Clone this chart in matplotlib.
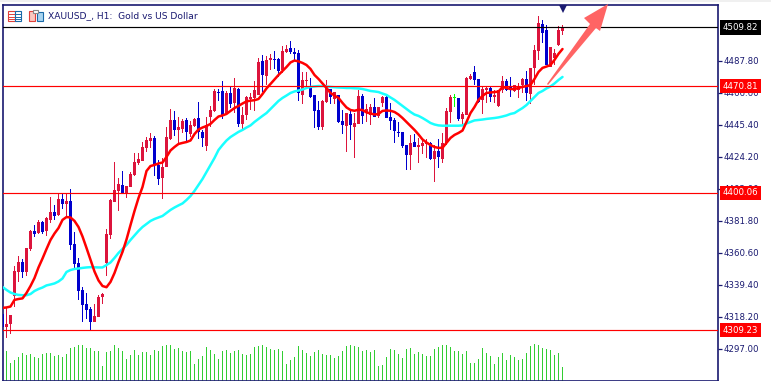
import matplotlib
matplotlib.use("Agg")
import matplotlib.pyplot as plt
from matplotlib.patches import Polygon, Rectangle
from matplotlib.lines import Line2D

W, H = 771, 381

symbol_title = "XAUUSD_, H1:  Gold vs US Dollar"
tick_prices = [4487.80, 4466.60, 4445.40, 4424.20, 4403.00, 4381.80, 4360.60, 4339.40, 4318.20, 4297.00]
level_prices = [4470.81, 4400.06, 4309.23]
last_price = 4509.82

candle_dir = ("brrrrbrrbr" "brrbrbrbbb" "bbbrrrrrrr" "brrrrrrrbb" "rrrbrrbrrb" "brrrbbrbrb" "rrrrrbrrbb"
              "rrbbbrrbbb" "rrbrbbrbrr" "brrbrrbbbb" "bbrbrrrbrb" "rrrgbrrrbb" "rrbrrrbbrr" "rbrrrbbrrr" "r")

body_top = [4319.9,4313.2,4319.2,4348.3,4354.4,4354.4,4363.6,4374.9,4374.9,4380.9,
            4380.9,4383.5,4387.5,4387.5,4396.1,4396.1,4394.8,4394.8,4366.3,4353.7,
            4335.8,4326.5,4323.2,4318.6,4331.2,4333.1,4372.9,4395.4,4402.0,4406.0,
            4405.4,4404.7,4412.7,4420.6,4422.6,4430.5,4435.2,4436.5,4436.5,4418.6,
            4417.3,4437.2,4448.4,4448.4,4443.8,4447.8,4448.4,4445.1,4449.1,4449.7,
            4440.5,4445.1,4455.0,4467.7,4467.0,4467.7,4466.3,4466.3,4469.6,4469.0,
            4451.7,4463.7,4463.7,4468.3,4486.9,4487.5,4488.2,4489.5,4488.8,4488.8,
            4494.1,4495.5,4496.1,4493.5,4492.8,4474.9,4474.9,4469.6,4465.0,4455.0,
            4461.0,4470.3,4469.0,4467.0,4465.0,4447.8,4453.0,4452.4,4446.4,4464.3,
            4464.3,4455.7,4457.0,4457.0,4457.0,4463.7,4463.7,4450.4,4448.4,4440.5,
            4440.5,4431.9,4433.2,4433.9,4431.9,4433.2,4433.9,4433.2,4427.9,4427.9,
            4433.2,4454.4,4463.7,4463.0,4463.0,4452.4,4476.2,4477.6,4480.2,4475.6,
            4469.0,4469.6,4469.6,4465.0,4468.3,4474.3,4474.3,4470.3,4471.6,4470.3,
            4475.6,4475.6,4482.9,4494.8,4512.7,4512.0,4508.0,4496.8,4492.8,4508.0,
            4509.8]
body_bottom = [4311.3,4311.3,4313.2,4331.8,4347.7,4347.7,4347.7,4362.9,4372.9,4373.5,
               4374.2,4374.9,4382.2,4384.8,4385.5,4392.8,4392.8,4365.6,4353.0,4335.1,
               4325.9,4322.5,4314.6,4314.6,4317.9,4331.2,4353.7,4372.2,4394.1,4401.4,
               4400.1,4400.1,4404.0,4412.0,4419.9,4421.3,4429.9,4434.5,4419.3,4409.3,
               4410.0,4417.3,4435.8,4441.8,4441.8,4442.5,4440.5,4439.2,4444.4,4440.5,
               4436.5,4431.2,4450.4,4454.4,4466.3,4451.7,4453.0,4459.0,4459.7,4445.8,
               4445.8,4451.7,4462.3,4463.0,4465.0,4478.2,4477.6,4488.2,4488.2,4480.9,
               4481.5,4493.5,4493.5,4492.2,4466.3,4465.0,4474.3,4463.7,4454.4,4443.8,
               4443.8,4460.4,4463.7,4462.3,4447.1,4445.1,4444.4,4445.1,4443.8,4445.8,
               4451.0,4453.0,4451.7,4450.4,4451.0,4459.7,4449.7,4447.8,4441.1,4439.8,
               4431.2,4425.2,4425.2,4430.5,4430.5,4431.2,4432.5,4422.6,4422.6,4423.9,
               4422.6,4433.2,4453.7,4462.7,4449.1,4449.1,4451.7,4475.6,4474.9,4460.4,
               4461.7,4468.3,4463.7,4463.7,4457.7,4468.3,4468.3,4469.6,4467.7,4468.3,
               4471.6,4466.3,4465.7,4482.9,4494.1,4506.0,4484.9,4483.5,4489.5,4498.1,
               4507.4]
highs = [4319.9,4323.9,4319.2,4351.7,4358.3,4356.3,4363.6,4375.5,4378.9,4382.2,
         4381.5,4384.2,4397.4,4392.1,4399.4,4399.4,4399.4,4402.7,4374.2,4357.0,
         4337.8,4333.8,4324.6,4326.5,4332.5,4333.8,4376.2,4396.1,4420.6,4410.0,
         4414.7,4404.7,4414.0,4426.6,4426.6,4433.9,4437.2,4439.8,4437.8,4421.9,
         4423.2,4443.8,4455.7,4454.4,4450.4,4449.1,4449.7,4447.8,4449.7,4460.4,
         4441.8,4450.4,4457.7,4469.0,4469.0,4474.3,4467.7,4470.3,4476.2,4469.6,
         4457.0,4464.3,4466.3,4474.3,4489.5,4491.5,4490.8,4492.2,4494.1,4489.5,
         4497.4,4498.1,4500.8,4496.1,4494.8,4480.2,4480.2,4476.2,4465.0,4461.0,
         4461.7,4474.9,4469.0,4467.0,4465.0,4455.0,4453.0,4454.4,4453.0,4468.3,
         4465.7,4459.0,4459.0,4463.0,4457.0,4464.3,4464.3,4459.7,4449.7,4447.1,
         4440.5,4431.9,4438.5,4439.2,4436.5,4436.5,4435.8,4433.9,4431.9,4435.8,
         4439.8,4456.4,4465.0,4465.7,4463.0,4453.7,4476.9,4478.9,4484.2,4475.6,
         4470.9,4470.3,4470.3,4468.3,4468.3,4477.6,4475.6,4476.9,4471.6,4472.9,
         4476.2,4480.9,4482.9,4498.1,4517.3,4514.7,4511.4,4496.8,4495.5,4510.7,
         4511.4]
lows = [4311.3,4304.0,4306.7,4324.6,4341.1,4343.7,4345.0,4361.7,4370.9,4372.9,
        4372.9,4371.5,4380.2,4382.2,4384.8,4389.5,4383.5,4362.3,4350.4,4329.2,
        4314.6,4316.6,4309.3,4314.6,4317.9,4326.5,4345.0,4369.6,4394.1,4388.1,
        4399.4,4396.7,4404.0,4411.3,4418.6,4421.3,4427.2,4429.9,4411.3,4405.4,
        4396.1,4417.3,4435.2,4437.8,4431.9,4439.8,4433.9,4437.2,4443.8,4435.8,
        4430.5,4427.9,4443.8,4453.7,4461.0,4449.1,4452.4,4456.4,4453.0,4443.8,
        4442.5,4448.4,4455.0,4454.4,4465.0,4467.0,4471.6,4481.5,4482.2,4476.9,
        4479.6,4492.8,4492.2,4487.5,4461.0,4459.0,4470.3,4463.0,4443.1,4441.8,
        4441.8,4459.7,4459.0,4459.0,4446.4,4439.2,4427.2,4435.2,4423.2,4445.8,
        4445.8,4447.1,4445.1,4450.4,4449.7,4457.0,4449.7,4441.8,4433.2,4437.2,
        4429.9,4415.3,4415.3,4430.5,4419.9,4425.9,4423.2,4421.9,4407.4,4416.6,
        4419.9,4431.9,4446.4,4457.0,4447.8,4445.1,4451.7,4474.9,4471.6,4459.7,
        4452.4,4459.7,4460.4,4459.7,4457.0,4466.3,4467.7,4463.7,4467.0,4463.0,
        4466.3,4461.0,4459.0,4471.6,4488.2,4499.4,4484.9,4483.5,4484.9,4497.4,
        4504.7]
ma_fast = [4323.9,4324.2,4324.8,4329.2,4329.8,4330.2,4333.8,4338.4,4343.7,4350.7,
           4356.6,4362.9,4368.9,4373.2,4376.8,4382.2,4384.1,4383.8,4381.5,4377.5,
           4371.2,4363.6,4355.7,4348.0,4342.1,4338.4,4337.6,4341.1,4347.0,4354.3,
           4361.0,4369.2,4378.8,4388.1,4396.7,4404.0,4414.6,4417.9,4418.6,4419.6,
           4420.2,4423.9,4428.2,4430.5,4432.5,4433.2,4433.8,4434.8,4439.1,4442.1,
           4443.4,4444.4,4445.8,4448.4,4450.7,4451.4,4452.4,4454.4,4456.3,4457.7,
           4459.3,4460.7,4461.2,4461.5,4462.3,4465.6,4469.3,4472.3,4475.2,4478.2,
           4480.9,4483.5,4486.5,4487.8,4487.2,4486.2,4484.8,4482.2,4478.2,4475.6,
           4472.6,4469.6,4466.3,4464.6,4463.0,4459.7,4456.7,4455.0,4454.5,4455.2,
           4455.0,4453.4,4452.7,4452.0,4452.4,4454.4,4454.7,4454.5,4453.7,4452.0,
           4449.7,4447.1,4444.4,4441.8,4438.8,4435.5,4433.5,4431.8,4430.5,4429.9,
           4430.0,4433.2,4436.5,4438.5,4439.8,4441.4,4447.1,4453.0,4457.0,4461.7,
           4464.3,4466.3,4466.6,4466.9,4467.2,4470.3,4469.6,4468.9,4468.9,4469.6,
           4470.3,4470.9,4471.6,4475.6,4480.2,4482.9,4483.8,4484.8,4488.2,4492.2,
           4495.4]
ma_slow = [4337.8,4335.8,4334.1,4333.1,4332.5,4332.3,4332.3,4333.1,4335.1,4336.4,
           4337.4,4338.8,4339.4,4340.1,4341.4,4343.4,4347.7,4349.0,4349.7,4350.0,
           4350.4,4350.7,4350.9,4350.8,4350.7,4350.7,4352.3,4354.0,4357.0,4360.3,
           4362.9,4365.6,4368.9,4371.9,4374.9,4377.5,4379.5,4381.5,4382.8,4383.8,
           4384.8,4386.8,4388.8,4390.4,4391.8,4393.1,4395.4,4398.0,4401.4,4405.3,
           4409.3,4413.9,4418.6,4423.2,4428.5,4431.8,4434.8,4437.1,4438.8,4440.5,
           4441.8,4443.4,4444.8,4447.1,4449.1,4451.1,4453.0,4455.7,4458.3,4461.0,
           4463.0,4464.6,4466.3,4467.3,4467.9,4468.6,4469.6,4470.3,4470.6,4470.9,
           4470.9,4470.6,4470.3,4470.1,4469.9,4469.8,4469.6,4469.6,4469.4,4469.3,
           4468.9,4468.3,4467.6,4467.3,4466.9,4465.9,4465.0,4463.3,4461.7,4459.7,
           4457.7,4455.7,4453.7,4452.0,4451.1,4449.7,4448.1,4446.4,4445.4,4444.8,
           4444.6,4444.6,4444.6,4444.6,4444.6,4444.8,4446.1,4447.1,4448.1,4448.4,
           4448.7,4449.1,4449.4,4449.7,4450.1,4450.7,4451.4,4452.4,4453.0,4454.7,
           4456.3,4458.3,4461.0,4463.6,4466.3,4467.6,4469.3,4470.6,4472.6,4474.9,
           4476.9]
volumes = [0,3000,1730,2100,2330,2770,2600,2700,2400,2300,
           2630,2770,2800,2470,2600,2400,2700,3300,3400,3600,
           3600,3300,3270,3000,3000,1500,2900,3000,3600,3300,
           3000,2200,2600,3100,2600,2900,2900,2600,3100,3000,
           3500,3600,3600,3200,3300,3000,2900,3000,1700,2200,
           2500,3400,3100,2700,2200,3000,3100,2800,3000,3100,
           2700,2600,2700,3400,3500,3600,3400,3200,3100,3200,
           3000,1700,2100,2400,3500,3100,2800,2500,2900,3100,
           2700,2600,2570,2300,2500,3000,3500,3600,3500,3400,
           3000,3100,2900,3100,1500,1600,2400,3200,3100,2700,
           2300,3200,3300,2700,2900,2700,2500,2500,3200,3400,
           3600,3600,3400,3000,3000,2700,3000,1800,1800,2200,
           3300,2800,2500,1700,2400,2800,2100,2600,2400,2100,
           2200,2800,3500,3700,3600,3300,3200,3100,2600,2800,
           1400]

UP, DOWN, DOJI = "#DC143C", "#0000CD", "#00FF00"
NAVY = "#191970"
dir_color = {"r": UP, "b": DOWN, "g": DOJI}

fig = plt.figure(figsize=(W / 100, H / 100), dpi=100, facecolor="white")
left, right, top, bottom = 2.5, 718.3, 4.5, 380.5
ax = fig.add_axes([left / W, 1 - bottom / H, (right - left) / W, (bottom - top) / H])
ax.set_xlim(0, 178.95)
ax.set_ylim(4275.8, 4524.9)

xs = list(range(len(candle_dir)))
colors = [dir_color[c] for c in candle_dir]

vol_ax = ax.twinx()
vol_ax.set_ylim(0, 37600)
vol_ax.axis("off")
vol_ax.bar(xs, volumes, width=0.26, color="#32CD32", linewidth=0, antialiased=False)
ax.set_zorder(vol_ax.get_zorder() + 1)
ax.patch.set_visible(False)

ax.bar(xs, [h - l for h, l in zip(highs, lows)], bottom=lows, width=0.26,
       color=colors, linewidth=0, zorder=2, antialiased=False)
ax.bar(xs, [max(t - b, 0.8) for t, b in zip(body_top, body_bottom)], bottom=body_bottom, width=0.76,
       color=colors, linewidth=0, zorder=3, antialiased=False)

ax.plot(xs, ma_slow, color="#19FFFF", lw=1.8, zorder=4, solid_capstyle="round")
ax.plot(xs, ma_fast, color="#FF0000", lw=1.8, zorder=5, solid_capstyle="round")

for p in level_prices:
    ax.axhline(p, color="#FF0000", lw=0.85, zorder=6)
ax.axhline(last_price, color="#000000", lw=0.85, zorder=6)

arrow_px = [(547, 84), (590, 24), (584, 18), (608, 4), (600, 31), (596, 28), (548, 85)]
arrow = Polygon([(x / W, 1 - y / H) for x, y in arrow_px], closed=True, transform=fig.transFigure,
                facecolor="#FF6464", edgecolor="none", zorder=7, clip_on=False)
fig.add_artist(arrow)

ax.plot([xs[-1]], [0.988], marker="v", ms=6, color=NAVY, mew=0, clip_on=False, zorder=8,
        transform=ax.get_xaxis_transform())

for s in ax.spines.values():
    s.set_color(NAVY)
    s.set_linewidth(1.2)

ax.set_xticks([])
ax.yaxis.tick_right()
ax.set_yticks(tick_prices)
ax.set_yticklabels([f"{t:.2f}" for t in tick_prices], fontsize=6.2, color=NAVY, family="DejaVu Sans")
ax.tick_params(axis="y", length=3, width=0.9, color=NAVY, pad=1)

def tag(price, face):
    ax.text(1.0065, price, f"{price:.2f}", transform=ax.get_yaxis_transform(), ha="left", va="center",
            fontsize=6.2, color="white", family="DejaVu Sans", clip_on=False, zorder=10,
            bbox=dict(boxstyle="square,pad=0.32", facecolor=face, edgecolor="none"))

for p in level_prices:
    tag(p, "#FF0000")
tag(last_price, "#000000")

fig.add_artist(Rectangle((0, 1 - 2 / H), 1, 2 / H, transform=fig.transFigure, facecolor="#F0F0F0", edgecolor="none"))
fig.text(48 / W, 1 - 16 / H, symbol_title, fontsize=6.6, color=NAVY, va="center", ha="left", family="DejaVu Sans")

def fpx(x, y, w, h):
    return (x / W, 1 - (y + h) / H), w / W, h / H

def icon_box(x, y, w, h, face, edge):
    xy, fw, fh = fpx(x, y, w, h)
    fig.add_artist(Rectangle(xy, fw, fh, transform=fig.transFigure, facecolor=face, edgecolor=edge, lw=0.8))

def icon_rows(x0, x1, ys, edge):
    for y in ys:
        fig.add_artist(Line2D([x0 / W, x1 / W], [1 - y / H, 1 - y / H], transform=fig.transFigure, color=edge, lw=0.7))

icon_box(8, 11, 7, 10, "white", "#E0403A")
icon_rows(9, 14, [14, 16.5, 19], "#E0403A")
icon_box(15, 11, 6, 10, "white", "#1A6AA8")
icon_rows(16, 21, [14, 16.5, 19], "#1A6AA8")
icon_box(28.5, 10.5, 6, 10.5, "#F9C8C0", "#E0403A")
icon_box(36.5, 12, 6, 9, "#A8D4F0", "#1A6AA8")
icon_box(33, 10, 5, 3, "white", "#888888")

fig.savefig("out.png", dpi=100, facecolor="white")
